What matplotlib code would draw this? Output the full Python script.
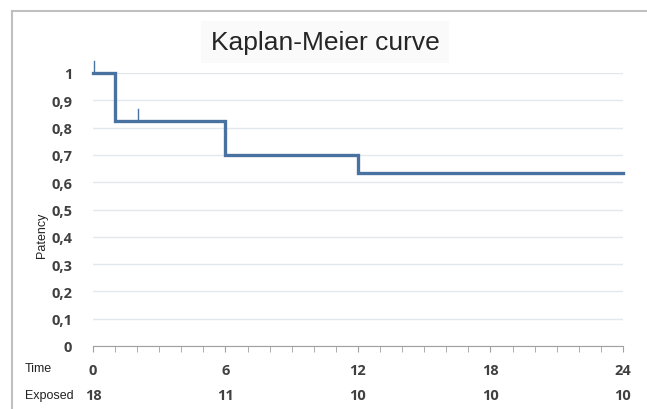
import matplotlib.pyplot as plt
from matplotlib.lines import Line2D

# step curve values
times = [0, 1, 6, 12, 24]
patency = [1.0, 0.824, 0.70, 0.634, 0.634]
censor_t = [0, 2]
censor_y = [1.0, 0.824]
tick_times = [0, 6, 12, 18, 24]
exposed = [18, 11, 10, 10, 10]
ylabels = ['0', '0,1', '0,2', '0,3', '0,4', '0,5', '0,6', '0,7', '0,8', '0,9', '1']

line_col = '#4a72a0'
txt_col = '#404040'

fig = plt.figure(figsize=(6.47, 4.10), dpi=100)
ax = fig.add_axes([93/647, 1 - 347/410, (623 - 93)/647, (347 - 74)/410])

ax.step(times, patency, where='post', color=line_col, lw=2.4, clip_on=False, solid_joinstyle='miter')
for t, y in zip(censor_t, censor_y):
    ax.plot([t + 0.05, t + 0.05], [y, y + 0.045], color=line_col, lw=1.0, clip_on=False)

ax.set_xlim(0, 24)
ax.set_ylim(0, 1)
ax.set_yticks([i / 10 for i in range(11)])
ax.set_yticklabels(ylabels)
ax.set_xticks(tick_times)
ax.set_xticks(range(25), minor=True)
ax.grid(axis='y', color='#e3e8ef', lw=1.0)
ax.set_axisbelow(True)
for s in ['top', 'right', 'left']:
    ax.spines[s].set_visible(False)
ax.spines['bottom'].set_color('#a0a0a0')
ax.tick_params(axis='y', length=0, pad=15, labelsize=10.5, labelcolor=txt_col)
ax.tick_params(axis='x', which='both', direction='out', length=4, color='#a0a0a0',
               pad=8, labelsize=10.5, labelcolor=txt_col)
for lab in ax.get_xticklabels() + ax.get_yticklabels():
    lab.set_fontweight('bold')
    lab.set_family('Open Sans')

for t, n in zip(tick_times, exposed):
    ax.text(t, -0.18, str(n), ha='center', va='center', fontsize=10.5, color=txt_col,
            fontweight='bold', family='Open Sans', transform=ax.get_xaxis_transform())

fig.text(25/647, 1 - 369/410, 'Time', ha='left', va='center', fontsize=9, color='#222222', family='Liberation Sans')
fig.text(25/647, 1 - 396/410, 'Exposed', ha='left', va='center', fontsize=9, color='#222222', family='Liberation Sans')
fig.text(42/647, 1 - 235/410, 'Patency', rotation=90, ha='center', va='center', fontsize=9,
         color='#222222', family='Liberation Sans')
fig.text(325/647, 1 - 43/410, 'Kaplan-Meier curve', ha='center', va='center', fontsize=19,
         color='#262626', family='Liberation Sans',
         bbox=dict(boxstyle='square,pad=0.35', fc='#fafafa', ec='none'))

# outer frame lines
fig.add_artist(Line2D([12/647, 1], [1 - 12/410, 1 - 12/410], color='#c0c0c0', lw=1.5, transform=fig.transFigure))
fig.add_artist(Line2D([12/647, 12/647], [0, 1 - 12/410], color='#c0c0c0', lw=1.5, transform=fig.transFigure))

fig.savefig('out.png', dpi=100)
